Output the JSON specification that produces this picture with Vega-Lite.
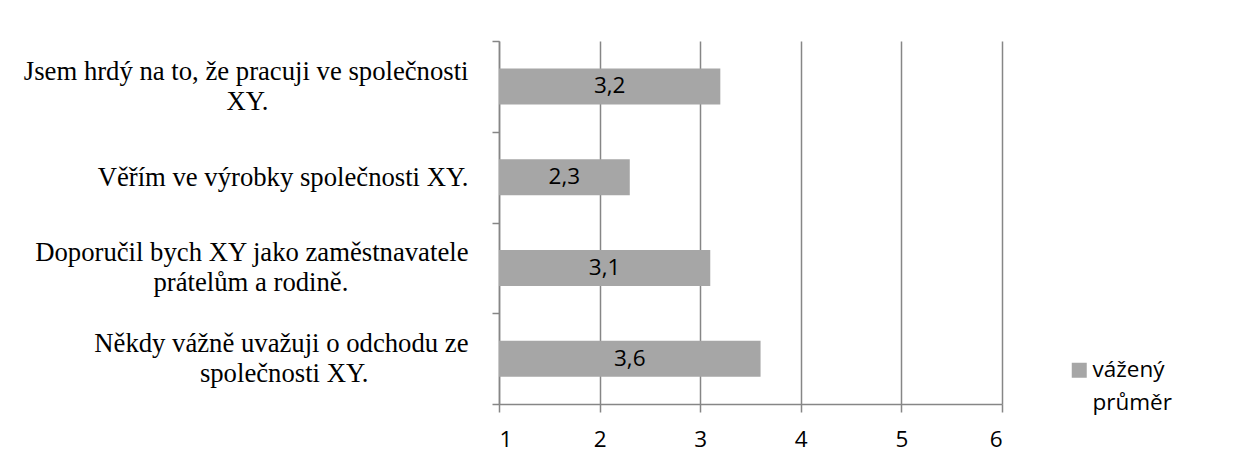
{
  "$schema": "https://vega.github.io/schema/vega-lite/v6.json",
  "width": 503,
  "height": 363,
  "autosize": {"type": "none"},
  "padding": {"left": 499, "top": 41, "right": 256, "bottom": 61},
  "background": "white",
  "config": {
    "locale": {"number": {"decimal": ",", "thousands": "\u00a0", "grouping": [3], "currency": ["", " Kč"]}},
    "view": {"stroke": null},
    "font": "Open Sans",
    "style": {"guide-label": {"lineHeight": 33}},
    "axisX": {
      "domainColor": "#868686", "domainWidth": 1.5,
      "gridColor": "#868686", "gridWidth": 1.5,
      "tickColor": "#868686", "tickWidth": 1.5, "tickSize": 8,
      "labelFont": "Open Sans", "labelFontSize": 22.5, "labelColor": "black", "labelPadding": 16
    },
    "axisY": {
      "domainColor": "#868686", "domainWidth": 1.5,
      "tickColor": "#868686", "tickWidth": 1.5, "tickSize": 7,
      "labelFont": "Liberation Serif", "labelFontSize": 26.7, "labelColor": "black",
      "labelPadding": 24, "labelLineHeight": 30, "labelLimit": 0
    }
  },
  "data": {
    "values": [
      {"otazka": "Jsem hrdý na to, že pracuji ve společnosti XY.", "hodnota": 3.2, "serie": "vážený průměr"},
      {"otazka": "Věřím ve výrobky společnosti XY.", "hodnota": 2.3, "serie": "vážený průměr"},
      {"otazka": "Doporučil bych XY jako zaměstnavatele prátelům a rodině.", "hodnota": 3.1, "serie": "vážený průměr"},
      {"otazka": "Někdy vážně uvažuji o odchodu ze společnosti XY.", "hodnota": 3.6, "serie": "vážený průměr"}
    ]
  },
  "encoding": {
    "y": {
      "field": "otazka",
      "type": "nominal",
      "sort": null,
      "title": null,
      "scale": {"paddingInner": 0, "paddingOuter": 0},
      "axis": {
        "tickBand": "extent",
        "grid": false,
        "labelOffset": {"condition": {"test": "datum.value != 'Věřím ve výrobky společnosti XY.'", "value": -15}, "value": 0},
        "labelExpr": "datum.value == 'Jsem hrdý na to, že pracuji ve společnosti XY.' ? ['Jsem hrdý na to, že pracuji ve společnosti', pad('XY.', 33, '\u00a0') + '\u200b'] : datum.value == 'Doporučil bych XY jako zaměstnavatele prátelům a rodině.' ? ['Doporučil bych XY jako zaměstnavatele', pad('prátelům a rodině.', 36, '\u00a0') + '\u200b'] : datum.value == 'Někdy vážně uvažuji o odchodu ze společnosti XY.' ? ['Někdy vážně uvažuji o odchodu ze', pad('společnosti XY.', 30, '\u00a0') + '\u200b'] : datum.value"
      }
    }
  },
  "layer": [
    {
      "mark": {"type": "bar", "size": 36},
      "encoding": {
        "x": {
          "field": "hodnota",
          "type": "quantitative",
          "title": null,
          "scale": {"domain": [1, 6], "nice": false, "zero": false},
          "axis": {"values": [1, 2, 3, 4, 5, 6], "format": "d", "grid": true}
        },
        "x2": {"datum": 1},
        "color": {
          "field": "serie",
          "type": "nominal",
          "scale": {"range": ["#a6a6a6"]},
          "legend": {
            "title": null,
            "orient": "none",
            "legendX": 569,
            "legendY": 318,
            "padding": 0,
            "symbolType": "square",
            "symbolSize": 225,
            "symbolStrokeWidth": 0,
            "labelFont": "Open Sans",
            "labelFontSize": 22.5,
            "labelColor": "black",
            "labelLimit": 0,
            "labelOffset": 2,
            "labelExpr": "['vážený', 'průměr']"
          }
        }
      }
    },
    {
      "transform": [{"calculate": "(datum.hodnota + 1) / 2", "as": "stred"}],
      "mark": {"type": "text", "font": "Open Sans", "fontSize": 22.5, "color": "black"},
      "encoding": {
        "x": {"field": "stred", "type": "quantitative", "title": null},
        "text": {"field": "hodnota", "type": "quantitative", "format": ".1f"}
      }
    }
  ]
}
